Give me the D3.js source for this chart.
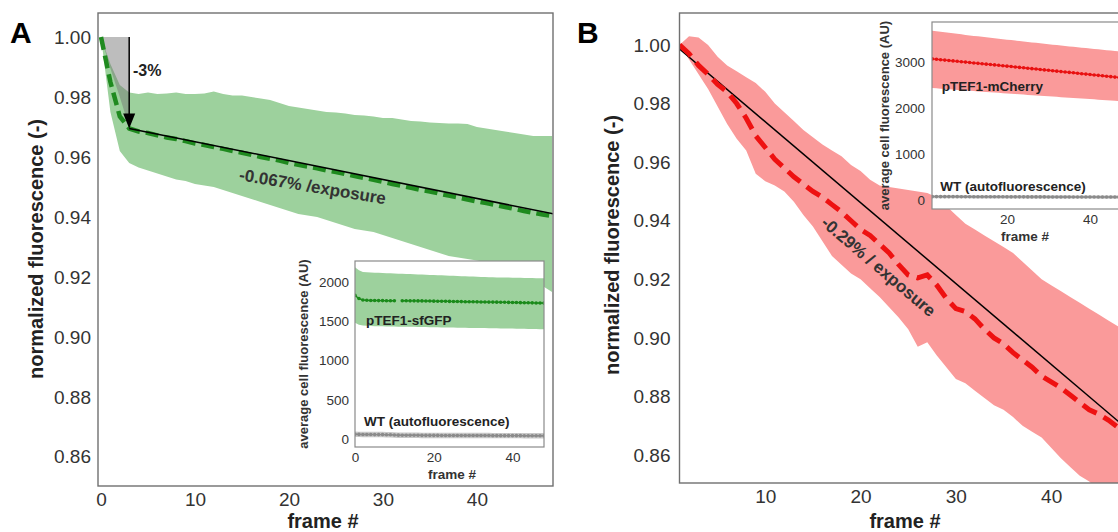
<!DOCTYPE html>
<html>
<head>
<meta charset="utf-8">
<script src="https://cdn.jsdelivr.net/npm/d3@7"></script>
<style>
  body { margin: 0; background: #fff; }
  svg { display: block; font-family: 'Liberation Sans', Arial, sans-serif; }
</style>
</head>
<body>
<svg id="chart" width="1118" height="532"></svg>
<script>
// ---- panel A: pTEF1-sfGFP, normalized ----
const framesA = d3.range(0, 49);
const meanA = [1.000, 0.985, 0.9735, 0.9695, 0.9685, 0.968, 0.9672, 0.9665, 0.966, 0.9653,
  0.9645, 0.964, 0.9633, 0.9627, 0.962, 0.9614, 0.9607, 0.960, 0.9594, 0.9588,
  0.958, 0.9574, 0.9568, 0.9562, 0.9555, 0.955, 0.9543, 0.9536, 0.953, 0.9524,
  0.9517, 0.951, 0.9504, 0.9497, 0.949, 0.9485, 0.9478, 0.9471, 0.9465, 0.9458,
  0.9452, 0.9446, 0.944, 0.9433, 0.9427, 0.942, 0.9414, 0.9408, 0.9403];
const upperA = [1.000, 0.991, 0.984, 0.9815, 0.981, 0.9815, 0.981, 0.9812, 0.9815, 0.981,
  0.981, 0.9812, 0.9818, 0.981, 0.9805, 0.9805, 0.980, 0.9795, 0.979, 0.978,
  0.977, 0.9765, 0.976, 0.9755, 0.975, 0.9748, 0.9745, 0.974, 0.9738, 0.9735,
  0.973, 0.973, 0.9725, 0.972, 0.9718, 0.9715, 0.9713, 0.9712, 0.9712, 0.971,
  0.970, 0.9695, 0.969, 0.9685, 0.968, 0.9675, 0.967, 0.967, 0.967];
const lowerA = [1.000, 0.975, 0.962, 0.958, 0.9565, 0.9555, 0.9545, 0.9535, 0.9525, 0.952,
  0.951, 0.9505, 0.950, 0.949, 0.948, 0.947, 0.946, 0.945, 0.944, 0.943,
  0.942, 0.941, 0.9405, 0.940, 0.939, 0.938, 0.937, 0.936, 0.9355, 0.935,
  0.934, 0.933, 0.932, 0.931, 0.930, 0.929, 0.928, 0.927, 0.9265, 0.926,
  0.9255, 0.925, 0.9245, 0.924, 0.923, 0.921, 0.919, 0.917, 0.915];
const fitFramesA = [3, 48.2];
const fitValuesA = [0.9695, 0.9410];
// grey "first exposure" drop
const dropFramesA = [0, 1, 2, 2.5, 3];
const dropValuesA = [1.000, 0.9895, 0.980, 0.975, 0.9695];

// inset A: raw fluorescence
const gfpMean = [1830, 1790, 1772, 1768, 1766, 1765, 1764, 1764, 1763, 1763,
  1762, null, 1762, 1762, 1761, 1761, 1760, 1760, 1759, 1758,
  1757, 1756, 1755, 1755, 1754, 1753, 1752, 1751, 1750, 1750,
  1749, 1748, 1747, 1746, 1745, 1745, 1744, 1743, 1742, 1741,
  1740, 1739, 1738, 1737, 1736, 1735, 1734, 1733, 1732];
const gfpHi = [2190, 2150, 2130, 2125, 2122, 2120, 2118, 2116, 2114, 2112,
  2110, 2108, 2106, 2104, 2102, 2100, 2098, 2096, 2094, 2092,
  2090, 2088, 2086, 2084, 2082, 2080, 2078, 2076, 2074, 2072,
  2070, 2068, 2066, 2064, 2062, 2061, 2060, 2059, 2058, 2057,
  2056, 2055, 2054, 2053, 2052, 2051, 2050, 2049, 2048];
const gfpLo = [1480, 1455, 1445, 1442, 1440, 1438, 1437, 1436, 1435, 1434,
  1433, 1432, 1431, 1430, 1430, 1429, 1428, 1427, 1426, 1425,
  1424, 1423, 1422, 1421, 1420, 1420, 1419, 1418, 1417, 1416,
  1415, 1414, 1413, 1413, 1412, 1411, 1410, 1409, 1408, 1408,
  1407, 1406, 1405, 1404, 1403, 1402, 1401, 1400, 1400];
const wtMeanA = [60, 58, 57, 56, 56, 55, 55, 55, 54, 54,
  50, 48, 47, 47, 46, 46, 46, 45, 45, 45,
  45, 45, 44, 44, 44, 44, 44, 44, 43, 43,
  43, 43, 43, 43, 43, 42, 42, 42, 42, 42,
  42, 42, 42, 41, 41, 41, 41, 41, 41];
const wtSpread = 35;

// ---- panel B: pTEF1-mCherry, normalized ----
const framesB = d3.range(1, 49);
const meanB = [1.000, 0.997, 0.993, 0.990, 0.9865, 0.984, 0.980, 0.975, 0.969, 0.965,
  0.961, 0.958, 0.955, 0.9525, 0.950, 0.948, 0.9455, 0.943, 0.940, 0.937,
  0.935, 0.932, 0.929, 0.925, 0.9215, 0.9205, 0.9215, 0.918, 0.9135, 0.910,
  0.909, 0.9065, 0.903, 0.900, 0.898, 0.895, 0.8925, 0.890, 0.887, 0.885,
  0.883, 0.8805, 0.878, 0.8755, 0.874, 0.872, 0.8695, 0.867];
const upperB = [1.000, 1.003, 1.0025, 1.000, 0.996, 0.993, 0.991, 0.989, 0.987, 0.984,
  0.980, 0.977, 0.974, 0.971, 0.9685, 0.966, 0.964, 0.962, 0.959, 0.957,
  0.954, 0.952, 0.9515, 0.951, 0.9505, 0.950, 0.9495, 0.948, 0.945, 0.942,
  0.939, 0.937, 0.935, 0.933, 0.931, 0.929, 0.926, 0.923, 0.920, 0.918,
  0.916, 0.914, 0.912, 0.910, 0.908, 0.906, 0.904, 0.902];
const lowerB = [1.000, 0.995, 0.990, 0.985, 0.979, 0.973, 0.968, 0.964, 0.956, 0.9535,
  0.952, 0.950, 0.9465, 0.942, 0.938, 0.933, 0.928, 0.925, 0.922, 0.920,
  0.917, 0.914, 0.9105, 0.907, 0.903, 0.897, 0.8985, 0.894, 0.890, 0.886,
  0.8845, 0.882, 0.8795, 0.877, 0.8755, 0.873, 0.870, 0.868, 0.866, 0.8625,
  0.859, 0.856, 0.853, 0.851, 0.848, 0.846, 0.843, 0.840];
const fitFramesB = [1, 48];
const fitValuesB = [0.9986, 0.8689];

// inset B
const mchMean = [3078, 3068, 3060, 3050, 3042, 3033, 3024, 3015, 3006, 2998,
  2989, 2980, 2971, 2963, 2954, 2945, 2937, 2928, 2919, 2910,
  2901, 2892, 2883, 2874, 2865, 2856, 2847, 2838, 2829, 2820,
  2810, 2801, 2792, 2783, 2774, 2765, 2756, 2746, 2737, 2728,
  2719, 2710, 2700, 2691, 2682, 2672, 2663, 2654];
const mchHi = [3690, 3680, 3668, 3656, 3645, 3634, 3623, 3612, 3601, 3590,
  3579, 3568, 3558, 3547, 3537, 3527, 3516, 3506, 3496, 3486,
  3476, 3466, 3456, 3446, 3436, 3426, 3417, 3407, 3397, 3388,
  3378, 3369, 3359, 3350, 3340, 3331, 3322, 3312, 3303, 3294,
  3285, 3276, 3267, 3258, 3249, 3240, 3231, 3222];
const mchLo = [2440, 2435, 2428, 2421, 2414, 2408, 2401, 2394, 2388, 2381,
  2374, 2368, 2361, 2355, 2348, 2342, 2335, 2329, 2322, 2316,
  2310, 2303, 2297, 2291, 2285, 2278, 2272, 2266, 2260, 2254,
  2248, 2242, 2236, 2230, 2224, 2218, 2212, 2206, 2200, 2194,
  2188, 2182, 2176, 2170, 2164, 2158, 2152, 2146];
const wtMeanB = [75, 74, 74, 73, 73, 72, 72, 72, 71, 71,
  71, 70, 70, 70, 70, 69, 69, 69, 69, 68,
  68, 68, 68, 68, 67, 67, 67, 67, 67, 66,
  66, 66, 66, 66, 66, 65, 65, 65, 65, 65,
  65, 64, 64, 64, 64, 64, 64, 63];

// tick labels
const mainYTicks = [0.86, 0.88, 0.90, 0.92, 0.94, 0.96, 0.98, 1.00];
const mainXTicksA = [0, 10, 20, 30, 40];
const mainXTicksB = [10, 20, 30, 40];
const insetYTicksA = [0, 500, 1000, 1500, 2000];
const insetYTicksB = [0, 1000, 2000, 3000];
const insetXTicksA = [0, 20, 40];
const insetXTicksB = [20, 40];

const svg = d3.select('#chart');
const defs = svg.append('defs');

function clipRect(id, x0, y0, x1, y1) {
  defs.append('clipPath').attr('id', id).append('rect')
    .attr('x', x0).attr('y', y0).attr('width', x1 - x0).attr('height', y1 - y0);
  return 'url(#' + id + ')';
}

function styleAxis(g, size, color) {
  g.select('.domain').remove();
  g.selectAll('text').attr('font-size', size).attr('fill', color)
    .attr('font-family', "'Liberation Sans', Arial, sans-serif");
}

function band(g, x, y, frames, lo, hi, color) {
  g.append('path')
    .datum(frames.map((f, i) => [f, lo[i], hi[i]]))
    .attr('d', d3.area().x(d => x(d[0])).y0(d => y(d[1])).y1(d => y(d[2])))
    .attr('fill', color);
}

function mainAxes(x, y, xTicks, xr, yr, pad) {
  svg.append('g').attr('transform', 'translate(' + xr[0] + ',0)')
    .call(d3.axisLeft(y).tickValues(mainYTicks).tickSize(0).tickPadding(pad).tickFormat(d3.format('.2f')))
    .call(g => styleAxis(g, 19, '#333'));
  svg.append('g').attr('transform', 'translate(0,' + yr[0] + ')')
    .call(d3.axisBottom(x).tickValues(xTicks).tickSize(0).tickPadding(7))
    .call(g => styleAxis(g, 19, '#333'));
  svg.append('rect')
    .attr('x', xr[0]).attr('y', yr[1])
    .attr('width', xr[1] - xr[0]).attr('height', yr[0] - yr[1])
    .attr('fill', 'none').attr('stroke', '#707070').attr('stroke-width', 1.4);
}

function inset(o) {
  const x = d3.scaleLinear().domain(o.xDomain).range(o.xRange);
  const y = d3.scaleLinear().domain(o.yDomain).range(o.yRange);
  svg.append('rect')
    .attr('x', o.xRange[0]).attr('y', o.yRange[1])
    .attr('width', o.xRange[1] - o.xRange[0]).attr('height', o.yRange[0] - o.yRange[1])
    .attr('fill', '#fff');
  const body = svg.append('g').attr('clip-path', clipRect(o.id, o.xRange[0], o.yRange[1], Math.min(o.xRange[1], 1118), o.yRange[0]));
  band(body, x, y, o.frames, o.lo, o.hi, o.bandColor);
  band(body, x, y, o.frames, o.wt.map(v => v - wtSpread), o.wt.map(v => v + wtSpread), '#c8c8c8');

  const series = [[o.mean, o.dotColor], [o.wt, '#8a8a8a']];
  series.forEach(([vals, col]) => {
    const pts = o.frames.map((f, i) => [f, vals[i]]);
    body.append('path').datum(pts)
      .attr('d', d3.line().defined(d => d[1] != null).x(d => x(d[0])).y(d => y(d[1])))
      .attr('fill', 'none').attr('stroke', col).attr('stroke-width', 1.4);
    body.selectAll(null).data(pts.filter(d => d[1] != null)).enter()
      .append('circle')
      .attr('cx', d => x(d[0])).attr('cy', d => y(d[1])).attr('r', 1.8)
      .attr('fill', col);
  });

  svg.append('g').attr('transform', 'translate(' + o.xRange[0] + ',0)')
    .call(d3.axisLeft(y).tickValues(o.yTicks).tickSize(0).tickPadding(o.yPad).tickFormat(d3.format('d')))
    .call(g => styleAxis(g, 13.5, '#333'));
  svg.append('g').attr('transform', 'translate(0,' + o.yRange[0] + ')')
    .call(d3.axisBottom(x).tickValues(o.xTicks).tickSize(0).tickPadding(5))
    .call(g => styleAxis(g, 13.5, '#333'));
  svg.append('rect')
    .attr('x', o.xRange[0]).attr('y', o.yRange[1])
    .attr('width', o.xRange[1] - o.xRange[0]).attr('height', o.yRange[0] - o.yRange[1])
    .attr('fill', 'none').attr('stroke', '#8a8a8a').attr('stroke-width', 1.2);

  svg.append('text')
    .attr('transform', 'translate(' + o.yLabelX + ',' + (o.yRange[0] + o.yRange[1]) / 2 + ') rotate(-90)')
    .attr('text-anchor', 'middle').attr('dominant-baseline', 'middle')
    .attr('font-size', 13).attr('font-weight', 'bold').attr('fill', '#333')
    .text('average cell fluorescence (AU)');
  svg.append('text')
    .attr('x', o.xLabelX).attr('y', o.yRange[0] + 28)
    .attr('text-anchor', 'middle').attr('dominant-baseline', 'middle')
    .attr('font-size', 13.5).attr('font-weight', 'bold').attr('fill', '#333')
    .text('frame #');
  o.labels.forEach(l => {
    svg.append('text')
      .attr('x', x(l[1])).attr('y', y(l[2]))
      .attr('dominant-baseline', 'middle')
      .attr('font-size', 13.5).attr('font-weight', 'bold').attr('fill', '#222')
      .text(l[0]);
  });
}

function axisTitles(cx, yTitleX, cy) {
  svg.append('text')
    .attr('x', cx).attr('y', 523)
    .attr('text-anchor', 'middle').attr('dominant-baseline', 'middle')
    .attr('font-size', 20).attr('font-weight', 'bold').attr('fill', '#222')
    .text('frame #');
  svg.append('text')
    .attr('transform', 'translate(' + yTitleX + ',' + cy + ') rotate(-90)')
    .attr('text-anchor', 'middle').attr('dominant-baseline', 'middle')
    .attr('font-size', 20).attr('font-weight', 'bold').attr('fill', '#222')
    .text('normalized fluorescence (-)');
}

// ================= Panel A =================
const xrA = [98, 553], yrA = [486, 13];
const xA = d3.scaleLinear().domain([-0.32, 48.1]).range(xrA);
const yA = d3.scaleLinear().domain([0.8503, 1.008]).range(yrA);
const bodyA = svg.append('g').attr('clip-path', clipRect('clipA', xrA[0], yrA[1], xrA[1], yrA[0]));

band(bodyA, xA, yA, framesA, lowerA, upperA, '#9dd19d');

// grey drop region
const dropPts = dropFramesA.map((f, i) => [f, dropValuesA[i]]);
bodyA.append('path')
  .attr('d', d3.line()([[xA(0), yA(1.0)], [xA(3), yA(1.0)]].concat(dropPts.slice().reverse().map(d => [xA(d[0]), yA(d[1])]))) + 'Z')
  .attr('fill', '#767676').attr('fill-opacity', 0.48);

bodyA.append('path')
  .datum(framesA.map((f, i) => [f, meanA[i]]))
  .attr('d', d3.line().x(d => xA(d[0])).y(d => yA(d[1])))
  .attr('fill', 'none').attr('stroke', '#1f8a1f').attr('stroke-width', 4.5)
  .attr('stroke-dasharray', '13,6');
bodyA.append('path')
  .datum(fitFramesA.map((f, i) => [f, fitValuesA[i]]))
  .attr('d', d3.line().x(d => xA(d[0])).y(d => yA(d[1])))
  .attr('fill', 'none').attr('stroke', '#000').attr('stroke-width', 1.5);

// arrow for the first-exposure drop
const ax = xA(3), ay0 = yA(1.0), ay1 = yA(fitValuesA[0]);
svg.append('line').attr('x1', ax).attr('x2', ax).attr('y1', ay0).attr('y2', ay1 - 10)
  .attr('stroke', '#000').attr('stroke-width', 1.5);
svg.append('path')
  .attr('d', 'M' + ax + ',' + ay1 + 'L' + (ax - 6) + ',' + (ay1 - 15) + 'L' + (ax + 6) + ',' + (ay1 - 15) + 'Z')
  .attr('fill', '#000');
svg.append('text')
  .attr('x', xA(3.4)).attr('y', yA(0.9885))
  .attr('dominant-baseline', 'middle')
  .attr('font-size', 16).attr('font-weight', 'bold').attr('fill', '#222')
  .text('-3%');

const angA = Math.atan2(yA(fitValuesA[1]) - yA(fitValuesA[0]), xA(fitFramesA[1]) - xA(fitFramesA[0])) * 180 / Math.PI;
svg.append('text')
  .attr('transform', 'translate(' + xA(22.5) + ',' + yA(0.9497) + ') rotate(' + (angA - 2) + ')')
  .attr('text-anchor', 'middle').attr('dominant-baseline', 'middle')
  .attr('font-size', 17).attr('font-weight', 'bold').attr('fill', '#333')
  .text('-0.067% /exposure');

mainAxes(xA, yA, mainXTicksA, xrA, yrA, 7);
axisTitles(323, 38, 249);

inset({
  id: 'clipIA', frames: framesA,
  xDomain: [0, 48], xRange: [355, 544],
  yDomain: [-103, 2269], yRange: [447, 261],
  mean: gfpMean, hi: gfpHi, lo: gfpLo, wt: wtMeanA,
  bandColor: '#9dd19d', dotColor: '#1a8a1a',
  yTicks: insetYTicksA, xTicks: insetXTicksA, yPad: 6,
  yLabelX: 305, xLabelX: 452,
  labels: [['pTEF1-sfGFP', 2.8, 1500], ['WT (autofluorescence)', 2.3, 205]]
});

svg.append('text').attr('x', 10).attr('y', 43)
  .attr('font-size', 30).attr('font-weight', 'bold').attr('fill', '#000').text('A');

// ================= Panel B =================
const xrB = [679.5, 1127.4], yrB = [483, 13];
const xB = d3.scaleLinear().domain([1, 48]).range(xrB);
const yB = d3.scaleLinear().domain([0.8505, 1.0109]).range(yrB);
const bodyB = svg.append('g').attr('clip-path', clipRect('clipB', xrB[0], yrB[1], 1118, yrB[0]));

band(bodyB, xB, yB, framesB, lowerB, upperB, '#fa9a9a');
bodyB.append('path')
  .datum(fitFramesB.map((f, i) => [f, fitValuesB[i]]))
  .attr('d', d3.line().x(d => xB(d[0])).y(d => yB(d[1])))
  .attr('fill', 'none').attr('stroke', '#000').attr('stroke-width', 1.5);
bodyB.append('path')
  .datum(framesB.map((f, i) => [f, meanB[i]]))
  .attr('d', d3.line().x(d => xB(d[0])).y(d => yB(d[1])))
  .attr('fill', 'none').attr('stroke', '#ee1111').attr('stroke-width', 5)
  .attr('stroke-dasharray', '16,8');

const angB = Math.atan2(yB(fitValuesB[1]) - yB(fitValuesB[0]), xB(fitFramesB[1]) - xB(fitFramesB[0])) * 180 / Math.PI;
svg.append('text')
  .attr('transform', 'translate(' + xB(21.8) + ',' + yB(0.924) + ') rotate(' + angB + ')')
  .attr('text-anchor', 'middle').attr('dominant-baseline', 'middle')
  .attr('font-size', 17).attr('font-weight', 'bold').attr('fill', '#333')
  .text('-0.29% / exposure');

mainAxes(xB, yB, mainXTicksB, xrB, yrB, 9);
axisTitles(905, 614, 245);

inset({
  id: 'clipIB', frames: framesB,
  xDomain: [1.93, 48], xRange: [932, 1123.2],
  yDomain: [-196, 3870], yRange: [209, 22],
  mean: mchMean, hi: mchHi, lo: mchLo, wt: wtMeanB,
  bandColor: '#fa9a9a', dotColor: '#e81010',
  yTicks: insetYTicksB, xTicks: insetXTicksB, yPad: 7,
  yLabelX: 886, xLabelX: 1025,
  labels: [['pTEF1-mCherry', 4.3, 2456], ['WT (autofluorescence)', 3.9, 283]]
});

svg.append('text').attr('x', 577).attr('y', 43)
  .attr('font-size', 30).attr('font-weight', 'bold').attr('fill', '#000').text('B');
</script>
</body>
</html>
